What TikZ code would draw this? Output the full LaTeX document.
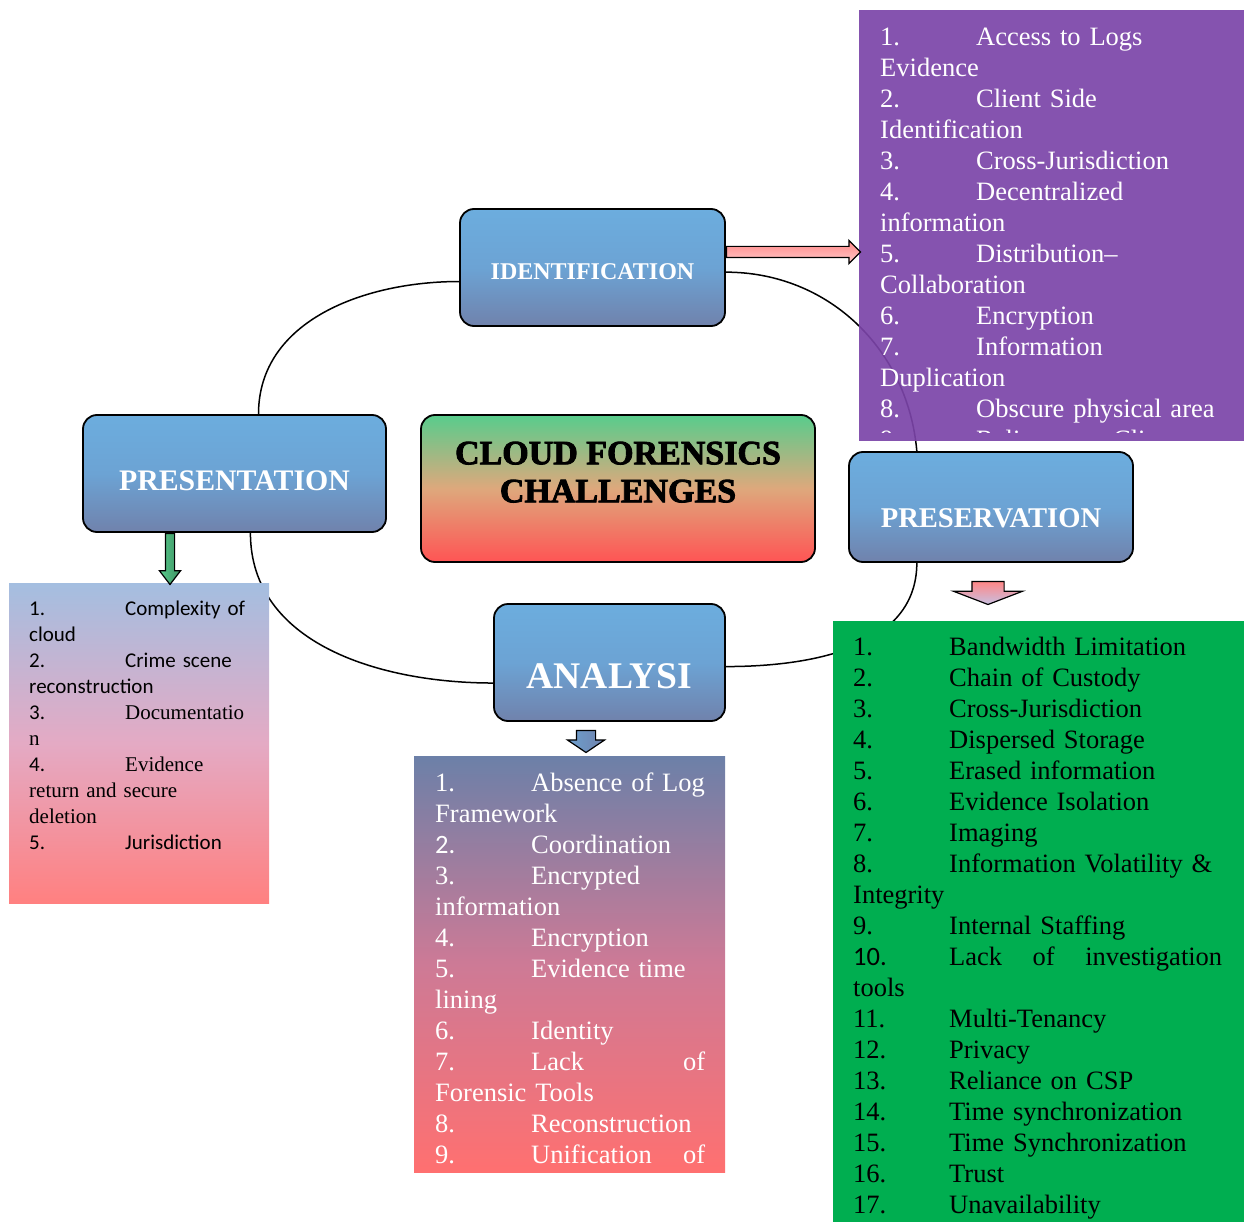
\documentclass[tikz,border=0pt]{standalone}
\usepackage{fontspec}
\setmainfont{Liberation Serif}
\newfontfamily\calibrifont{Carlito}
\newfontfamily\seriffont{Liberation Serif}
\newfontfamily\heavyfont{Liberation Serif}[BoldFeatures={FakeBold=2.5}]
\usepackage{xcolor}
\usepackage{tikz}
\usetikzlibrary{shapes,positioning,calc}
\definecolor{stagetop}{RGB}{108,173,222}
\definecolor{stagemid}{RGB}{108,163,212}
\definecolor{stagebottom}{RGB}{112,130,172}
\definecolor{coretop}{RGB}{88,204,140}
\definecolor{coremid}{RGB}{222,168,124}
\definecolor{corebottom}{RGB}{255,84,84}
\definecolor{idpurple}{RGB}{123,68,168}
\definecolor{presgreen}{RGB}{0,174,80}
\definecolor{analysistop}{RGB}{108,128,168}
\definecolor{analysismid}{RGB}{205,122,150}
\definecolor{analysisbottom}{RGB}{255,112,112}
\definecolor{presenttop}{RGB}{164,190,224}
\definecolor{presentmid}{RGB}{228,170,196}
\definecolor{presentbottom}{RGB}{255,128,128}
\newcommand{\stagefont}[1]{\fontsize{#1}{#1}\selectfont\bfseries}
\newcommand{\listnum}[1]{\makebox[96pt][l]{#1}}
\tikzset{
	stage/.style = {
		draw, rounded corners=14pt, line width=1.8pt, text=white,
		top color=stagetop, bottom color=stagebottom, middle color=stagemid
	}
}
\tikzset{
	core/.style = {
		stage, text=black, align=center,
		top color=coretop, bottom color=corebottom, middle color=coremid
	}
}
\tikzset{
	listbox/.style = {
		rectangle, inner sep=0pt, anchor=north west
	}
}
\tikzset{
	listtext/.style = {
		inner sep=0pt, anchor=north west, align=left, font=\fontsize{26.5}{31}\selectfont
	}
}
\tikzset{
	cycle/.style = {
		line width=1.5pt
	}
}
\tikzset{
	blockarrow/.style = {
		draw, single arrow, line width=1.2pt, inner xsep=0pt, anchor=tail
	}
}

\begin{document}
\begin{tikzpicture}[x=1pt, y=-1pt]
	\useasboundingbox (0,0) rectangle (1244,1222);

	\node[stage, minimum width=265, minimum height=117, font=\stagefont{24}, text height=25, text depth=0](Identification) at (592.5,267.5){IDENTIFICATION};
	\node[stage, minimum width=303, minimum height=117, font=\stagefont{29.8}, text height=34, text depth=0](Presentation) at (234.5,473.5){PRESENTATION};
	\node[stage, minimum width=284, minimum height=110, font=\stagefont{28.6}, text height=40, text depth=0](Preservation) at (991,507){PRESERVATION};
	\node[stage, minimum width=231, minimum height=117, font=\stagefont{37.6}, text height=51, text depth=0](Analysis) at (609.5,662.5){ANALYSI};
	\node[core, minimum width=394, minimum height=147, font=\heavyfont\bfseries\fontsize{34}{38}\selectfont](Challenges) at (618,488.5){CLOUD FORENSICS\\CHALLENGES\rule[-33pt]{0pt}{0pt}};

	\draw[cycle] (Presentation.68) to[out=90, in=180] (Identification.186);
	\draw[cycle] (Identification.358) to[out=0, in=95] (Preservation.143);
	\draw[cycle] (Preservation.217) to[out=-90, in=0] (Analysis.358);
	\draw[cycle] (Analysis.190) to[out=180, in=-90] (Presentation.285);

	% identification list
	\node[listbox, fill=idpurple, fill opacity=0.92, minimum width=385, minimum height=431](IdentificationBox) at (859,10){};
	\begin{scope}
		\clip (IdentificationBox.north west) rectangle ([yshift=9pt]IdentificationBox.south east);
		\node[listtext, text=white, text width=345](IdentificationList) at (880,23.3){\strut\listnum{1.}Access to Logs\\
			Evidence\\
			\listnum{2.}Client Side\\
			Identification\\
			\listnum{3.}Cross-Jurisdiction\\
			\listnum{4.}Decentralized\\
			information\\
			\listnum{5.}Distribution--\\
			Collaboration\\
			\listnum{6.}Encryption\\
			\listnum{7.}Information\\
			Duplication\\
			\listnum{8.}Obscure physical area\\
			\listnum{9.}Reliance on Clients};
	\end{scope}

	% preservation list
	\node[listbox, fill=presgreen, minimum width=411, minimum height=601](PreservationBox) at (833,621){};
	\node[listtext, text=black, text width=369](PreservationList) at (853,633.3){\strut\listnum{1.}Bandwidth Limitation\\
		\listnum{2.}Chain of Custody\\
		\listnum{3.}Cross-Jurisdiction\\
		\listnum{4.}Dispersed Storage\\
		\listnum{5.}Erased information\\
		\listnum{6.}Evidence Isolation\\
		\listnum{7.}Imaging\\
		\listnum{8.}Information Volatility \&\\
		Integrity\\
		\listnum{9.}Internal Staffing\\
		\listnum{\calibrifont 10.}Lack\hfill of\hfill investigation\\
		tools\\
		\listnum{11.}Multi-Tenancy\\
		\listnum{12.}Privacy\\
		\listnum{13.}Reliance on CSP\\
		\listnum{14.}Time synchronization\\
		\listnum{15.}Time Synchronization\\
		\listnum{16.}Trust\\
		\listnum{17.}Unavailability};

	% analysis list
	\node[listbox, top color=analysistop, bottom color=analysisbottom, middle color=analysismid, minimum width=311, minimum height=416](AnalysisBox) at (414,756){};
	\node[listtext, text=white, text width=270](AnalysisList) at (435,770){\strut\listnum{1.}Absence of Log\\
		Framework\\
		\listnum{\calibrifont 2.}Coordination\\
		\listnum{3.}Encrypted\\
		information\\
		\listnum{4.}Encryption\\
		\listnum{5.}Evidence time\\
		lining\\
		\listnum{6.}Identity\\
		\listnum{7.}Lack\hfill of\\
		Forensic Tools\\
		\listnum{8.}Reconstruction\\
		\listnum{9.}Unification\hfill of};

	% presentation list
	\node[listbox, top color=presenttop, bottom color=presentbottom, middle color=presentmid, minimum width=260, minimum height=320](PresentationBox) at (9,583){};
	\node[listtext, text=black, text width=225, font=\fontsize{21}{26}\selectfont](PresentationList) at (29,596.8){\strut\calibrifont\listnum{1.}Complexity of\\
		cloud\\
		\listnum{2.}Crime scene\\
		reconstruction\\
		\listnum{3.}\seriffont Documentatio\\
		n\\
		\listnum{\calibrifont 4.}Evidence\\
		return and secure\\
		deletion\\
		\listnum{\calibrifont 5.}\calibrifont Jurisdiction};

	% block arrows
	\node[blockarrow, minimum height=134, inner ysep=5pt, single arrow head extend=6pt, single arrow tip angle=90, top color=red!30!pink, bottom color=pink!80](IdentificationArrow) at ([yshift=15.5pt]Identification.east){};
	\node[blockarrow, rotate=-90, minimum height=51, inner ysep=4pt, single arrow head extend=6pt, single arrow tip angle=75, left color=coretop, right color=coretop!70!black](PresentationArrow) at ([xshift=-64.5pt]Presentation.south){};
	\node[blockarrow, rotate=-90, minimum height=22, inner ysep=9pt, single arrow head extend=9pt, single arrow tip angle=112, left color=stagetop!70!stagebottom, right color=stagebottom](AnalysisArrow) at ([xshift=-23.5pt, yshift=-8pt]Analysis.south){};
	\node[blockarrow, rotate=-90, minimum height=23, inner ysep=15.5pt, single arrow head extend=18.5pt, single arrow tip angle=138, bottom color=presenttop!50!idpurple!50, top color=presentbottom!90!pink](PreservationArrow) at ([xshift=-3pt, yshift=-18pt]Preservation.south){};
\end{tikzpicture}
\end{document}
